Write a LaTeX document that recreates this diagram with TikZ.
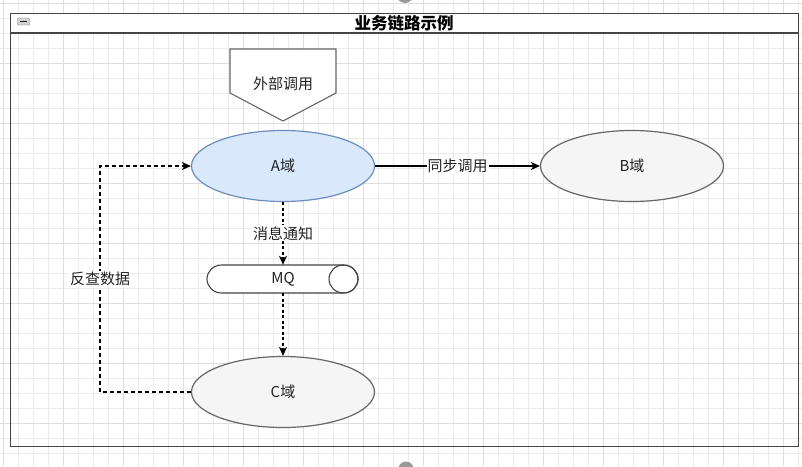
\documentclass[tikz,border=0pt]{standalone}
\usepackage{fontspec}
\setmainfont{Noto Sans CJK SC}
\usetikzlibrary{shapes.geometric,arrows.meta}
\definecolor{gridminor}{HTML}{EBEBEB}
\definecolor{gridmajor}{HTML}{DEDEDE}
\definecolor{afill}{HTML}{DAE8FC}
\definecolor{astroke}{HTML}{6C8EBF}
\definecolor{gfill}{HTML}{F5F5F5}
\definecolor{gstroke}{HTML}{666666}
\definecolor{txt}{HTML}{222222}
\definecolor{frame}{HTML}{444444}
\tikzset{
  lbl/.style={font=\fontsize{15}{17}\selectfont, text=txt},
  dom/.style={ellipse, draw=gstroke, fill=gfill, line width=1.2pt, minimum width=183, minimum height=71, inner sep=0pt, lbl},
  conn/.style={line width=1.1pt, draw=black, -{Stealth[length=9pt,width=8pt,inset=2.5pt]}},
  dashconn/.style={conn, dash pattern=on 3pt off 2.5pt},
  loopconn/.style={conn, dash pattern=on 4pt off 3pt},
  edgelbl/.style={lbl, fill=white, inner sep=1pt}
}
\begin{document}
\begin{tikzpicture}[x=1pt,y=-1pt]
\useasboundingbox (0,0) rectangle (802,466);
\fill[white] (0,0) rectangle (802,466);
% grid
\foreach \g in {3,18,...,798} \draw[gridminor, line width=0.8pt] (\g,0) -- (\g,466);
\foreach \g in {3,18,...,466} \draw[gridminor, line width=0.8pt] (0,\g) -- (802,\g);
\foreach \g in {3,63,...,798} \draw[gridmajor, line width=0.8pt] (\g,0) -- (\g,466);
\foreach \g in {3,63,...,466} \draw[gridmajor, line width=0.8pt] (0,\g) -- (802,\g);
% selection handles
\fill[gray!80] (405,-5) circle [radius=8];
\fill[gray!80] (406,469) circle [radius=7.5];
% container
\fill[white] (10,13) rectangle (798,33);
\node[draw=frame, line width=1.3pt, minimum width=788, minimum height=433, inner sep=0pt, anchor=north west] (cont) at (10,13) {};
\draw[frame, line width=1.2pt] (10,33) -- (798,33);
\node[font=\bfseries\fontsize{16.5}{18}\selectfont, text=black] (title) at (404,23.5) {业务链路示例};
\node[draw=gray, fill=gray!35, rounded corners=1pt, minimum width=12, minimum height=7, inner sep=0pt] (icon) at (23.5,21.5) {};
\draw[gray!20!black, line width=1pt] (icon.center) ++(-3.5,0) -- ++(7,0);
% external call (off-page connector)
\draw[fill=white, draw=gstroke, line width=1.1pt] (230,49) -- (336,49) -- (336,93) -- (283,121) -- (230,93) -- cycle;
\node[lbl] (ext) at (283,84) {外部调用};
% domains
\node[dom, fill=afill, draw=astroke] (a) at (283,166) {A域};
\node[dom] (b) at (632,166) {B域};
\node[dom] (c) at (283,392) {C域};
% MQ horizontal cylinder
\draw[fill=white, draw=frame, line width=1.1pt] (221.5,265) -- (343.5,265) arc[start angle=-90, end angle=90, x radius=14.5, y radius=14] -- (221.5,293) arc[start angle=90, end angle=270, x radius=14.5, y radius=14] -- cycle;
\draw[draw=frame, line width=1.1pt] (343.5,279) ellipse [x radius=14.5, y radius=14];
\node[lbl, minimum width=151, minimum height=28, inner sep=0pt] (mq) at (283,279) {MQ};
% connectors
\draw[conn] (a.east) -- node[edgelbl] {同步调用} (b.west);
\draw[dashconn] (a.south) -- node[edgelbl] {消息通知} (mq.north);
\draw[dashconn] (mq.south) -- (c.north);
\coordinate (lb) at (100,392);
\coordinate (lt) at (100,166);
\draw[loopconn] (c.west) -- (lb) -- node[edgelbl] {反查数据} (lt) -- (a.west);
\end{tikzpicture}
\end{document}
